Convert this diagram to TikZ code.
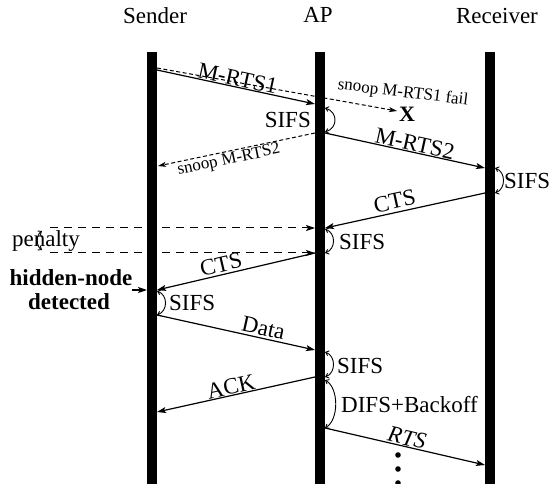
\documentclass[tikz,border=0pt]{standalone}
\usepackage{fontspec}
\setmainfont{Liberation Serif}
\usetikzlibrary{arrows.meta}
\begin{document}
\begin{tikzpicture}[x=1pt,y=-1pt,
  lifeline/.style={fill=black,draw=none,inner sep=0pt,minimum width=10pt,minimum height=432pt,anchor=north},
  msg/.style={line width=1.2pt,-{Stealth[length=9pt,width=6pt,inset=2pt]}},
  snoopmsg/.style={line width=1pt,dash pattern=on 4pt off 2.5pt,-{Stealth[length=8pt,width=5pt,inset=2pt]}},
  penmsg/.style={line width=1pt,dash pattern=on 8pt off 6pt,-{Stealth[length=9pt,width=6pt,inset=2pt]}},
  gaparc/.style={line width=0.9pt,{Straight Barb[length=3pt,width=5pt]}-{Straight Barb[length=3pt,width=5pt]}},
  lbl/.style={font=\fontsize{23}{26}\selectfont,inner sep=1pt},
  smalllbl/.style={font=\fontsize{17}{20}\selectfont,inner sep=1pt},
  title/.style={font=\fontsize{23}{26}\selectfont,inner sep=0pt,anchor=base}]

\useasboundingbox (0,0) rectangle (550,484);

% column headings
\node[title] (tS) at (155,24) {Sender};
\node[title] (tA) at (318,23) {AP};
\node[title] (tR) at (497,24) {Receiver};

% lifelines
\node[lifeline] (S) at (152,52) {};
\node[lifeline] (A) at (320,52) {};
\node[lifeline] (R) at (490,52) {};

% message end points
\coordinate (s1) at (157,70);   \coordinate (a1) at (315,104);
\coordinate (s0) at (157,68);   \coordinate (x0) at (397,111);
\coordinate (a2) at (325,133);  \coordinate (r2) at (485,168);
\coordinate (a2l) at (315,133); \coordinate (s2) at (158,166);
\coordinate (r3) at (485,193);  \coordinate (a3) at (325,228);
\coordinate (p1) at (50,228);   \coordinate (ap1) at (315,228);
\coordinate (p2) at (50,253);   \coordinate (ap2) at (315,253);
\coordinate (s4) at (157,290);
\coordinate (h0) at (132,290);  \coordinate (h1) at (147,290);
\coordinate (s5) at (157,315);  \coordinate (a5) at (315,350);
\coordinate (a6) at (315,377);  \coordinate (s6) at (157,412);
\coordinate (a7) at (325,428);  \coordinate (r7) at (485,465);

% interframe spaces
\coordinate (g1a) at (325,108); \coordinate (g1b) at (325,132);
\coordinate (g2a) at (495,168); \coordinate (g2b) at (495,193);
\coordinate (g3a) at (325,229); \coordinate (g3b) at (325,253);
\coordinate (g4a) at (157,291); \coordinate (g4b) at (157,315);
\coordinate (g5a) at (325,352); \coordinate (g5b) at (325,377);
\coordinate (g6a) at (325,380); \coordinate (g6b) at (325,428);
\coordinate (g7a) at (42,231);  \coordinate (g7b) at (42,250);

% snooped frames
\draw[snoopmsg] (s0) -- (x0);
\node[font=\bfseries\fontsize{22}{24}\selectfont,inner sep=0pt] (X) at (407,114) {X};
\node[smalllbl,rotate=-7] (snoop1) at (403,93) {snoop M-RTS1 fail};
\draw[snoopmsg] (a2l) -- node[smalllbl,sloped,below,pos=0.56] (snoop2) {snoop M-RTS2} (s2);

% frame exchange
\draw[msg] (s1) -- node[lbl,sloped,above,pos=0.5,inner sep=0.5pt] (l1) {M-RTS1} (a1);
\draw[msg] (a2) -- node[lbl,sloped,above,pos=0.55,inner sep=0.5pt] (l2) {M-RTS2} (r2);
\draw[msg] (r3) -- node[lbl,sloped,above,pos=0.55,inner sep=3pt] (l3) {CTS} (a3);
\draw[penmsg] (p1) -- (ap1);
\draw[penmsg] (p2) -- (ap2);
\draw[msg] (ap2) -- node[lbl,sloped,above,pos=0.58,inner sep=2pt] (l4) {CTS} (s4);
\draw[msg] (s5) -- node[lbl,sloped,above,pos=0.66,inner sep=2pt] (l5) {Data} (a5);
\draw[msg] (a6) -- node[lbl,sloped,above,pos=0.52,inner sep=0.5pt] (l6) {ACK} (s6);
\draw[msg] (a7) -- node[lbl,sloped,above,pos=0.5,inner sep=0.5pt] (l7) {\itshape RTS} (r7);
\draw[msg] (h0) -- (h1);

% interframe space arcs
\draw[gaparc] (g1a) .. controls +(13,4) and +(13,-4) .. (g1b);
\draw[gaparc] (g2a) .. controls +(11,4) and +(11,-4) .. (g2b);
\draw[gaparc] (g3a) .. controls +(11,4) and +(11,-4) .. (g3b);
\draw[gaparc] (g4a) .. controls +(11,4) and +(11,-4) .. (g4b);
\draw[gaparc] (g5a) .. controls +(11,4) and +(11,-4) .. (g5b);
\draw[gaparc] (g6a) .. controls +(14,8) and +(14,-8) .. (g6b);
\draw[gaparc] (g7a) .. controls +(-6,4) and +(-6,-4) .. (g7b);

% interframe space labels
\node[lbl,anchor=east] (sifs1) at (312,120) {SIFS};
\node[lbl,anchor=west] (sifs2) at (503,181) {SIFS};
\node[lbl,anchor=west] (sifs3) at (338,242) {SIFS};
\node[lbl,anchor=west] (sifs4) at (168,303) {SIFS};
\node[lbl,anchor=west] (sifs5) at (336,366) {SIFS};
\node[lbl,anchor=west] (difs) at (340,405) {DIFS+Backoff};

% side notes
\node[title] (pen) at (46,247) {penalty};
\node[title,font=\bfseries\fontsize{23}{26}\selectfont] (hn1) at (71,286) {hidden-node};
\node[title,font=\bfseries\fontsize{23}{26}\selectfont] (hn2) at (69,310) {detected};

% continuation
\foreach \yy [count=\i] in {455,469,483}
  \fill (398,\yy) circle (2.8pt) coordinate (d\i);
\end{tikzpicture}
\end{document}
